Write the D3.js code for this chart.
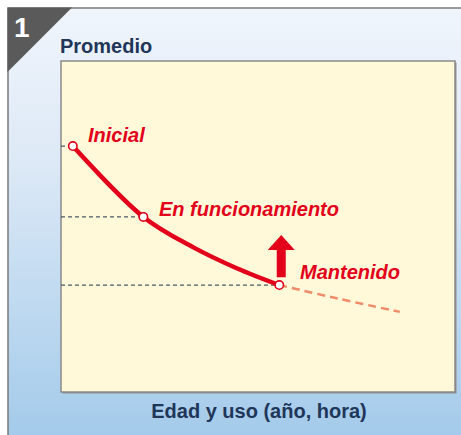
<!DOCTYPE html>
<html>
<head>
<meta charset="utf-8">
<script src="https://cdn.jsdelivr.net/npm/d3@7"></script>
<style>
  html, body { margin: 0; padding: 0; background: #fff; }
  svg { display: block; font-family: "Liberation Sans", Arial, sans-serif; }
</style>
</head>
<body>
<script>
// curve values (age/use vs. average), arbitrary 0-100 units
const solidX = [3.0, 20.9, 33.6, 44.6, 55.4];
const solidY = [74.3, 52.9, 43.7, 37.4, 32.3];
const futureX = [55.4, 70, 86];
const futureY = [32.3, 28.3, 24.2];
// marked states
const stateNames = ["Inicial", "En funcionamiento", "Mantenido"];
const stateX = [3.0, 20.9, 55.4];
const stateY = [74.3, 52.9, 32.3];
const arrowX = 55.9, arrowFrom = 34.7, arrowTo = 47.4;

const w = 461, h = 435;
const svg = d3.select('body').append('svg').attr('width', w).attr('height', h);

const defs = svg.append('defs');
const grad = defs.append('linearGradient').attr('id', 'bg').attr('x1', 0).attr('y1', 0).attr('x2', 0).attr('y2', 1);
grad.append('stop').attr('offset', '0%').attr('stop-color', '#f0f5fc');
grad.append('stop').attr('offset', '35%').attr('stop-color', '#dde9f6');
grad.append('stop').attr('offset', '100%').attr('stop-color', '#a2caea');

// outer panel
svg.append('rect').attr('x', 8).attr('y', 8).attr('width', w).attr('height', h)
  .attr('fill', 'url(#bg)').attr('stroke', '#7a7a7a').attr('stroke-width', 1.5);
svg.append('path').attr('d', 'M7.5,7.5 L72,7.5 L7.5,72 Z').attr('fill', '#5a5a5a');
svg.append('text').attr('x', 14).attr('y', 37).text('1')
  .attr('fill', '#fff').attr('font-weight', 'bold').attr('font-size', 28);

svg.append('text').attr('x', 60).attr('y', 53).text('Promedio')
  .attr('fill', '#1f3659').attr('font-weight', 'bold').attr('font-size', 20);

// plot area
const L = 61, T = 61, R = 455, B = 392;
svg.append('rect').attr('x', L + 1.5).attr('y', T + 1.5).attr('width', R - L).attr('height', B - T)
  .attr('fill', '#8f8f8f');
svg.append('rect').attr('x', L).attr('y', T).attr('width', R - L).attr('height', B - T)
  .attr('fill', '#fff9d9').attr('stroke', '#8a8a8a').attr('stroke-width', 1.5);

svg.append('text').attr('x', 259).attr('y', 418).attr('text-anchor', 'middle')
  .text('Edad y uso (año, hora)')
  .attr('fill', '#1f3659').attr('font-weight', 'bold').attr('font-size', 20);

const xScale = d3.scaleLinear().domain([0, 100]).range([L, R]);
const yScale = d3.scaleLinear().domain([0, 100]).range([B, T]);

// guide lines to the y axis
svg.selectAll('line.guide').data(stateX).enter().append('line').attr('class', 'guide')
  .attr('x1', L).attr('x2', (d) => xScale(d))
  .attr('y1', (d, i) => yScale(stateY[i])).attr('y2', (d, i) => yScale(stateY[i]))
  .attr('stroke', '#4d5a68').attr('stroke-width', 1.2).attr('stroke-dasharray', '4,3');

const line = d3.line().x((d) => xScale(d[0])).y((d) => yScale(d[1])).curve(d3.curveCatmullRom);

svg.append('path').datum(d3.zip(futureX, futureY)).attr('d', line)
  .attr('fill', 'none').attr('stroke', '#f08c68').attr('stroke-width', 2.5).attr('stroke-dasharray', '8,5');
svg.append('path').datum(d3.zip(solidX, solidY)).attr('d', line)
  .attr('fill', 'none').attr('stroke', '#e2001a').attr('stroke-width', 4.5).attr('stroke-linecap', 'round');

svg.selectAll('circle').data(stateX).enter().append('circle')
  .attr('cx', (d) => xScale(d)).attr('cy', (d, i) => yScale(stateY[i])).attr('r', 4.2)
  .attr('fill', '#fff').attr('stroke', '#e2001a').attr('stroke-width', 1.6);

// labels
const labelPos = [[88, 142], [159, 216], [300, 279]];
svg.selectAll('text.state').data(stateNames).enter().append('text').attr('class', 'state')
  .attr('x', (d, i) => labelPos[i][0]).attr('y', (d, i) => labelPos[i][1])
  .text((d) => d).attr('fill', '#e2001a').attr('font-weight', 'bold').attr('font-style', 'italic')
  .attr('font-size', 20);

// improvement arrow
const ax = xScale(arrowX), y0 = yScale(arrowFrom), y1 = yScale(arrowTo);
svg.append('path')
  .attr('d', `M${ax - 4.5},${y0} L${ax - 4.5},${y1 + 15} L${ax - 13.5},${y1 + 15} L${ax},${y1} L${ax + 13.5},${y1 + 15} L${ax + 4.5},${y1 + 15} L${ax + 4.5},${y0} Z`)
  .attr('fill', '#e2001a');
</script>
</body>
</html>
